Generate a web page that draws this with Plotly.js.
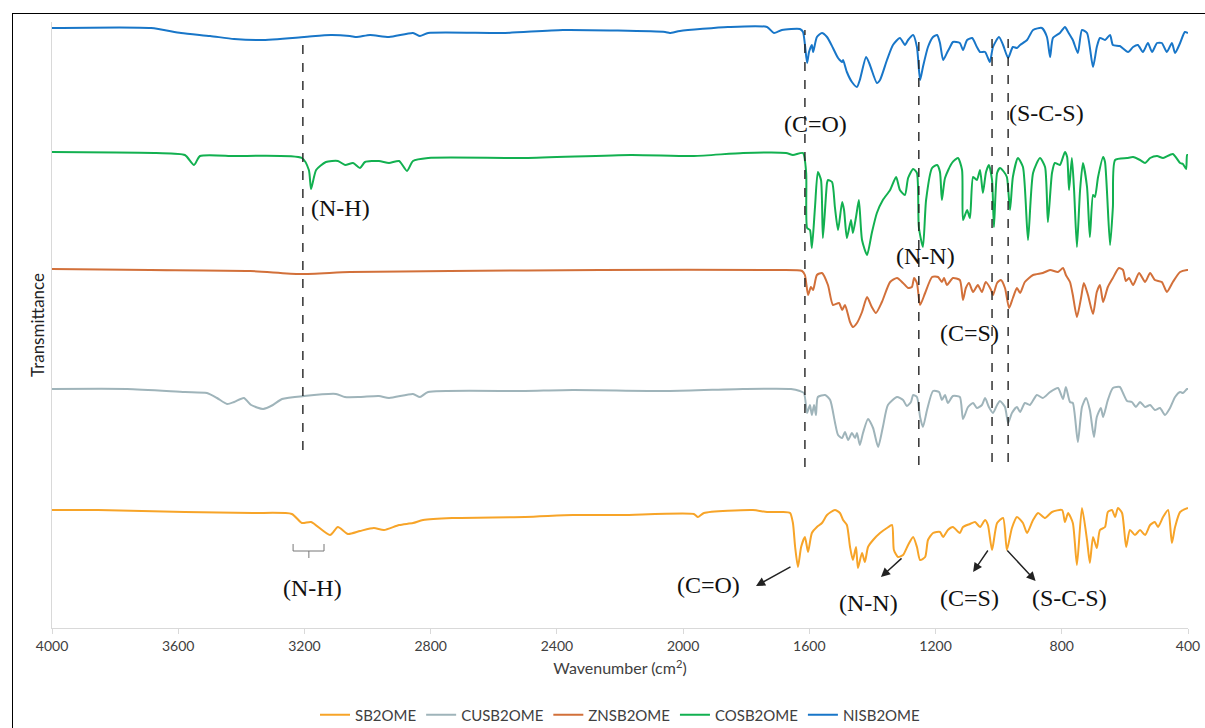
<!DOCTYPE html>
<html>
<head>
<meta charset="utf-8">
<script src="https://cdn.plot.ly/plotly-3.0.1.min.js"></script>
<style>
  html, body { margin: 0; padding: 0; background: #fff; overflow: hidden; }
  #wrap { position: relative; width: 1205px; height: 728px; }
  #chart { width: 1205px; height: 728px; }
  #frame { position: absolute; left: 12px; top: 13px; width: 1300px; height: 800px;
           border: 1.5px solid #000; pointer-events: none; box-sizing: border-box; }
</style>
</head>
<body>
<div id="wrap">
  <div id="chart"></div>
  <div id="frame"></div>
</div>
<script>
// ---------- DATA (wavenumber in cm-1, transmittance in arbitrary offset units) ----------
const seriesNames = ["SB2OME", "CUSB2OME", "ZNSB2OME", "COSB2OME", "NISB2OME"];
const seriesColors = ["#F7A428", "#9FB4BA", "#D2703A", "#12B050", "#1876C8"];

const wnSB2OME = [4000,3854,3579,3363,3240,3208,3179,3119,3094,3062,3024,2980,2948,2900,2856,2824,2732,2501,2349,2194,1966,1953,1934,1779,1734,1687,1661,1652,1645,1636,1626,1614,1604,1592,1576,1560,1544,1519,1503,1493,1481,1471,1462,1452,1446,1433,1424,1414,1398,1376,1354,1338,1332,1319,1303,1287,1271,1259,1249,1233,1224,1208,1186,1176,1161,1145,1123,1113,1091,1075,1059,1043,1034,1021,1005,986,974,958,942,923,910,891,875,853,831,799,790,780,765,752,736,720,711,701,689,679,663,654,641,631,622,609,596,584,568,552,536,520,505,495,479,463,451,441,425,400];
const tSB2OME  = [118,118,116,115,114,105,106,93,101,94,97,100,98,103,105,108,110,111,113,113,114,111,115,118,116,116,115,105,81,61,81,91,76,95,101,105,113,118,115,108,103,81,68,81,60,75,66,81,88,95,100,103,78,71,73,83,91,81,68,71,88,95,96,91,98,101,95,101,104,106,101,108,103,78,105,110,78,100,111,105,95,108,115,110,116,118,106,115,105,63,120,88,65,91,80,98,101,116,118,111,120,115,81,98,93,98,93,103,106,101,111,118,85,101,116,120];

const wnCUSB2OME = [4000,3762,3579,3509,3477,3445,3423,3392,3369,3331,3300,3271,3201,3100,3072,3024,2964,2932,2856,2834,2808,2501,2349,2042,1810,1658,1630,1617,1607,1598,1592,1585,1579,1573,1550,1534,1519,1509,1496,1487,1477,1465,1455,1449,1440,1430,1414,1398,1382,1367,1351,1322,1303,1291,1278,1271,1259,1249,1240,1227,1208,1189,1180,1170,1161,1145,1123,1113,1097,1081,1069,1053,1043,1031,1018,1005,996,980,970,958,942,932,917,901,879,860,837,812,796,787,774,765,749,736,723,711,698,689,676,669,654,638,616,606,593,578,565,552,536,520,505,489,473,457,441,425,416,403,400];
const tCUSB2OME  = [239,239,236,235,230,224,226,230,223,219,223,229,232,234,231,231,232,230,234,231,236,237,238,237,239,239,237,235,215,223,213,223,213,231,233,228,206,193,190,196,188,195,190,195,183,195,209,200,181,201,223,231,228,222,226,233,231,211,201,218,237,236,228,233,225,232,231,209,221,225,220,223,230,221,215,223,227,221,205,215,221,216,225,223,233,230,236,240,229,241,226,225,186,221,230,218,191,211,220,211,228,240,241,235,227,226,221,226,221,223,218,220,213,220,231,236,235,239,239];

const wnZNSB2OME = [4000,3689,3372,3214,3056,2739,2263,1693,1623,1614,1604,1595,1588,1576,1560,1541,1525,1506,1496,1487,1471,1462,1449,1433,1417,1402,1389,1370,1344,1322,1303,1287,1275,1268,1259,1249,1233,1211,1192,1180,1173,1164,1145,1123,1113,1104,1094,1081,1066,1053,1041,1024,1018,1005,993,980,967,955,942,932,917,891,860,837,812,796,787,774,765,752,739,730,717,701,689,679,669,654,638,619,606,597,587,574,555,536,520,505,483,467,448,425,403,400];
const tZNSB2OME  = [359,358,357,354,356,357,358,358,357,353,333,341,338,353,355,343,323,325,318,323,306,301,305,316,331,321,315,326,346,350,345,340,341,350,345,323,335,351,351,346,350,343,350,348,328,340,345,336,343,336,346,338,333,345,348,340,320,330,340,335,346,353,355,358,356,360,353,346,333,311,330,345,333,314,336,343,326,341,350,360,358,347,350,343,355,346,355,348,346,336,346,356,358,358];

const wnCOSB2OME = [4000,3670,3579,3550,3531,3423,3208,3186,3179,3163,3132,3094,3071,3046,3024,3008,2964,2932,2900,2875,2856,2808,2501,2165,1966,1810,1674,1652,1620,1610,1607,1598,1592,1582,1573,1563,1557,1544,1541,1528,1519,1509,1496,1490,1481,1468,1462,1452,1443,1433,1417,1402,1386,1367,1344,1325,1313,1297,1287,1271,1259,1253,1240,1230,1211,1195,1186,1180,1170,1148,1129,1116,1113,1100,1091,1081,1069,1059,1050,1040,1031,1021,1015,1005,996,983,974,964,955,939,923,907,891,869,853,844,831,822,806,790,783,777,768,761,752,742,733,720,711,701,695,685,669,663,647,638,631,593,574,552,536,520,498,479,448,425,416,406,403,400];
const tCOSB2OME  = [476,475,473,463,472,472,470,458,439,458,466,467,463,465,460,466,467,465,467,457,467,470,470,473,472,475,475,473,475,455,400,398,380,421,456,448,390,445,448,446,421,398,426,418,390,408,395,411,428,388,373,395,415,428,438,451,438,433,450,459,455,401,381,428,460,463,456,428,450,465,470,458,408,418,410,451,448,458,435,456,463,448,401,455,460,456,451,418,451,470,461,388,455,470,461,406,455,465,463,476,471,438,470,438,381,438,465,441,391,433,431,451,471,466,383,421,468,470,471,468,465,470,472,470,474,465,464,459,473,473];

const wnNISB2OME = [4000,3686,3591,3499,3423,3338,3201,3116,3056,3034,2992,2932,2856,2834,2808,2564,2381,2057,2042,2010,1858,1734,1712,1687,1630,1620,1607,1601,1592,1588,1576,1560,1544,1525,1509,1496,1493,1481,1465,1449,1440,1420,1408,1386,1376,1354,1335,1313,1297,1287,1271,1259,1249,1240,1224,1208,1195,1186,1176,1164,1154,1145,1123,1113,1100,1084,1069,1059,1043,1028,1018,999,986,970,955,942,932,910,891,863,847,837,828,806,790,780,765,749,736,720,701,689,679,663,647,638,616,590,574,559,543,527,514,498,483,467,451,441,425,410,400];
const tNISB2OME  = [600,600,595,592,589,588,591,593,592,591,593,591,595,592,595,595,598,596,595,597,601,601,595,598,599,596,565,576,583,576,591,595,591,580,570,566,568,556,546,541,548,571,563,545,548,568,583,590,583,588,593,581,548,561,581,591,593,585,568,575,581,586,585,578,588,590,581,576,576,566,581,591,583,570,581,580,583,588,598,600,591,571,590,595,601,596,588,575,598,595,561,581,590,588,593,583,582,576,581,583,576,585,576,585,585,576,585,575,585,596,595];

// Reference (dashed) band positions
const bandWn     = [3205, 1614, 1253, 1021, 970];
const bandTop    = [590, 598, 593, 593, 593];
const bandBottom = [178, 161, 163, 166, 166];

// Band label texts
const labelText = ["(C=O)", "(S-C-S)", "(N-H)", "(N-N)", "(C=S)", "(N-H)", "(C=O)", "(N-N)", "(C=S)", "(S-C-S)"];
const labelWn   = [1582, 850, 3087, 1233, 1091, 3173, 1921, 1411, 1091, 774];
const labelT    = [504, 515, 420, 372, 295, 40, 43, 25, 30, 30];

// Arrows (tail -> head)
const arrowTailWn = [1655, 1303, 1031, 977];
const arrowTailT  = [62, 71, 79, 79];
const arrowHeadWn = [1769, 1373, 1081, 883];
const arrowHeadT  = [42, 51, 56, 47];

// N-H bracket under SB2OME
const bracketWn = [3236, 3138, 3186];
const bracketT  = [84, 77, 70];

// ---------- BUILD ----------
const wnAll = [wnSB2OME, wnCUSB2OME, wnZNSB2OME, wnCOSB2OME, wnNISB2OME];
const tAll  = [tSB2OME, tCUSB2OME, tZNSB2OME, tCOSB2OME, tNISB2OME];

const traces = seriesNames.map((n, i) => ({
  type: "scatter", mode: "lines", name: n,
  x: wnAll[i], y: tAll[i],
  line: { color: seriesColors[i], width: 2, shape: "spline", smoothing: 0.6 },
  hoverinfo: "skip"
}));

const shapes = [];
bandWn.forEach((w, i) => {
  shapes.push({ type: "line", xref: "x", yref: "y", x0: w, x1: w, y0: bandBottom[i], y1: bandTop[i],
    line: { color: "#222", width: 1.4, dash: "dash" } });
});
// bracket
const bl = { color: "#777", width: 1 };
shapes.push({ type: "line", xref: "x", yref: "y", x0: bracketWn[0], x1: bracketWn[0], y0: bracketT[0], y1: bracketT[1], line: bl });
shapes.push({ type: "line", xref: "x", yref: "y", x0: bracketWn[1], x1: bracketWn[1], y0: bracketT[0], y1: bracketT[1], line: bl });
shapes.push({ type: "line", xref: "x", yref: "y", x0: bracketWn[0], x1: bracketWn[1], y0: bracketT[1], y1: bracketT[1], line: bl });
shapes.push({ type: "line", xref: "x", yref: "y", x0: bracketWn[2], x1: bracketWn[2], y0: bracketT[1], y1: bracketT[2], line: bl });

const annotations = labelText.map((t, i) => ({
  x: labelWn[i], y: labelT[i], xref: "x", yref: "y", text: t, showarrow: false,
  font: { family: "Liberation Serif, Times New Roman, serif", size: 24, color: "#111" },
  xanchor: "center", yanchor: "middle"
}));
arrowTailWn.forEach((w, i) => {
  annotations.push({
    x: arrowHeadWn[i], y: arrowHeadT[i], xref: "x", yref: "y",
    ax: w, ay: arrowTailT[i], axref: "x", ayref: "y",
    text: "", showarrow: true, arrowhead: 2, arrowsize: 1.3, arrowwidth: 1.4, arrowcolor: "#222"
  });
});

const layout = {
  width: 1205, height: 728,
  margin: { l: 52, r: 17, t: 22, b: 100 },
  paper_bgcolor: "#fff", plot_bgcolor: "#fff",
  showlegend: true,
  legend: { orientation: "h", x: 0.5, xanchor: "center", xref: "paper",
            yref: "container", y: 0.018, yanchor: "middle",
            font: { family: "Lato, sans-serif", size: 15, color: "#404040" }, itemwidth: 30,
            traceorder: "normal" },
  xaxis: {
    range: [4000, 400], tickvals: [4000,3600,3200,2800,2400,2000,1600,1200,800,400],
    showgrid: false, zeroline: false, showline: true, linecolor: "#d9d9d9", linewidth: 1,
    ticks: "outside", ticklen: 5, tickcolor: "#d9d9d9",
    tickfont: { family: "Lato, sans-serif", size: 14, color: "#404040" },
    title: { text: "Wavenumber (cm<sup>2</sup>)", font: { family: "Lato, sans-serif", size: 16, color: "#404040" }, standoff: 10 }
  },
  yaxis: {
    range: [0, 606], showgrid: false, zeroline: false, showline: true, linecolor: "#d9d9d9", linewidth: 1,
    ticks: "", showticklabels: false,
    title: { text: "Transmittance", font: { family: "Lato, sans-serif", size: 17, color: "#222" }, standoff: 2 }
  },
  shapes: shapes,
  annotations: annotations
};

Plotly.newPlot("chart", traces, layout, { displayModeBar: false, staticPlot: true });
</script>
</body>
</html>
